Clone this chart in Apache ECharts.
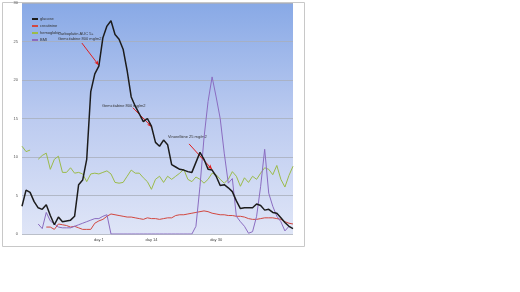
<!DOCTYPE html>
<html><head><meta charset="utf-8">
<script src="https://cdn.jsdelivr.net/npm/echarts@6/dist/echarts.min.js"></script>
<style>html,body{margin:0;padding:0;background:#fff}#c{width:520px;height:292px}</style>
</head><body><div id="c"></div>
<script>
const days = [-18,-17,-16,-15,-14,-13,-12,-11,-10,-9,-8,-7,-6,-5,-4,-3,-2,-1,0,1,2,3,4,5,6,7,8,9,10,11,12,13,14,15,16,17,18,19,20,21,22,23,24,25,26,27,28,29,30,31,32,33,34,35,36,37,38,39,40,41,42,43,44,45,46,47,48,49];
const tickLabels = {1:'day 1', 14:'day 14', 30:'day 30'};
const seriesNames = ['glucose','creatinine','hemoglobin','BMI'];
const glucose = [3.6,5.7,5.4,4.2,3.4,3.2,3.8,2.4,1.2,2.2,1.6,1.7,1.8,2.3,6.4,7.0,9.7,18.5,20.8,21.8,25.5,27.0,27.7,25.9,25.3,24.0,21.2,17.8,16.6,15.6,14.6,15.0,14.0,11.9,11.4,12.2,11.6,9.0,8.7,8.4,8.3,8.1,8.0,9.3,10.6,9.7,8.4,8.3,7.5,6.3,6.4,6.0,5.5,4.3,3.3,3.4,3.4,3.4,3.9,3.7,3.1,3.2,2.8,2.7,2.1,1.5,1.0,0.7];
const creatinine = [null,null,null,null,null,null,0.9,0.9,0.6,1.3,1.2,1.1,0.9,1.0,0.8,0.6,0.6,0.6,1.4,1.7,1.9,2.3,2.6,2.5,2.4,2.3,2.2,2.2,2.1,2.0,1.9,2.1,2.0,2.0,1.9,2.0,2.1,2.1,2.4,2.5,2.5,2.6,2.7,2.8,2.9,3.0,2.9,2.7,2.6,2.5,2.5,2.4,2.4,2.3,2.3,2.2,2.0,1.9,1.9,2.0,2.1,2.1,2.1,2.0,1.9,1.6,1.4,1.3];
const hemoglobin = [11.4,10.7,10.9,null,9.7,10.2,10.5,8.4,9.7,10.1,8.0,8.0,8.6,7.9,8.0,7.8,6.8,7.8,7.9,7.8,8.0,8.2,7.8,6.7,6.6,6.7,7.5,8.3,7.9,7.9,7.3,6.8,5.8,7.1,7.5,6.7,7.5,7.1,7.5,7.9,8.4,7.1,6.8,7.4,7.1,6.6,7.1,7.9,7.7,7.1,6.6,7.1,8.1,7.5,6.2,7.3,6.7,7.5,7.1,7.9,8.6,8.4,7.7,8.9,7.1,6.1,7.6,8.8];
const bmi = [null,null,null,null,1.3,0.7,2.8,1.7,1.3,0.9,0.8,0.8,0.8,1.0,1.2,1.4,1.6,1.8,2.0,2.0,2.3,2.5,0.0,0,0,0,0,0,0,0,0,0,0,0,0,0,0,0,0,0,0,0,0,1.0,6.2,12.5,17.2,20.4,17.8,15.0,10.5,6.6,7.2,2.3,1.6,1.0,0.1,0.3,2.3,6.2,11.0,5.3,3.6,2.3,1.6,0.4,1.0,null];
const notes = ['Carboplatin AUC 5+\nGemcitabine 800 mg/m2','Gemcitabine 800 mg/m2','Vinorelbine 25 mg/m2'];
const arrows = [[[-3.2,24.8],[1.0,21.9]],[[9.4,16.4],[14.1,13.9]],[[23.3,11.7],[29.0,8.4]]];

function pairs(arr){return days.map((d,i)=>[d,arr[i]]);}
const colors = ['#1c1c1c','#d2473f','#9bbb4a','#8a6cc0'];
const widths = [1.5,1,1,1];
const all=[glucose,creatinine,hemoglobin,bmi];
const series = all.map((arr,k)=>({
  name:seriesNames[k], type:'line', data:pairs(arr), showSymbol:false, symbol:'none',
  lineStyle:{color:colors[k],width:widths[k]}, itemStyle:{color:colors[k]}, connectNulls:false, z: k===0?5:3
}));
series.push({
  type:'line', data:[], silent:true,
  markLine:{silent:true, symbol:['none','arrow'], symbolSize:[3,5], label:{show:false},
    lineStyle:{color:'#e02020',width:1,type:'solid'},
    data: arrows.map(a=>[{coord:a[0]},{coord:a[1]}])}
});
const chart = echarts.init(document.getElementById('c'),null,{renderer:'canvas'});
chart.setOption({
  animation:false,
  backgroundColor:'#fff',
  grid:{left:22,right:227,top:3,bottom:58,show:true,borderWidth:0,
    backgroundColor:{type:'linear',x:0,y:0,x2:0,y2:1,colorStops:[{offset:0,color:'#88a9e6'},{offset:0.5,color:'#bccbf0'},{offset:1,color:'#dfe5f7'}]}},
  legend:{orient:'vertical',left:27,top:12,itemWidth:6,itemHeight:2,itemGap:3,icon:'rect',
    textStyle:{fontSize:4,color:'#333',padding:[0,0,0,-3]},data:seriesNames},
  xAxis:{type:'value',min:-18,max:49,interval:1,
    axisLine:{show:false},axisTick:{show:false},splitLine:{show:false},
    axisLabel:{fontSize:4,color:'#444',margin:4,showMinLabel:false,showMaxLabel:false,formatter:v=>tickLabels[v]||''}},
  yAxis:{type:'value',min:0,max:30,interval:5,
    axisLine:{show:false},axisTick:{show:false},
    splitLine:{lineStyle:{color:'#a8aebb',width:0.8}},
    axisLabel:{fontSize:4,color:'#555',margin:4}},
  graphic:[
    {type:'rect',shape:{x:2.5,y:2.5,width:302,height:244},style:{fill:'none',stroke:'#c8c8c8',lineWidth:1},silent:true},
    {type:'text',left:58,top:31,style:{text:notes[0],fontSize:4,fill:'#333',lineHeight:5}},
    {type:'text',left:102,top:104,style:{text:notes[1],fontSize:4,fill:'#333'}},
    {type:'text',left:168,top:135,style:{text:notes[2],fontSize:4,fill:'#333'}}
  ],
  series:series
});
</script></body></html>
